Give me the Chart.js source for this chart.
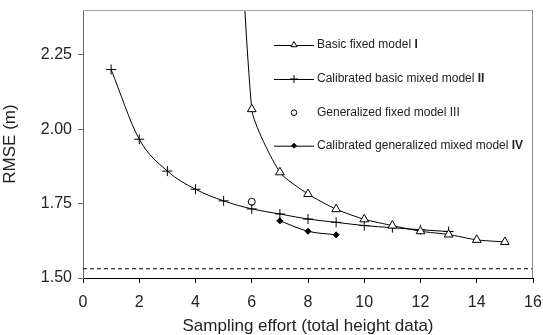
<!DOCTYPE html>
<html><head><meta charset="utf-8">
<script src="https://cdn.jsdelivr.net/npm/chart.js@4.4.1/dist/chart.umd.min.js"></script>
<style>html,body{margin:0;padding:0;background:#fff}#wrap{width:543px;height:335px}</style>
</head><body><div id="wrap"><canvas id="c" width="543" height="335"></canvas></div>
<script>
const xTicks = [0, 2, 4, 6, 8, 10, 12, 14, 16];
const yTicks = [1.5, 1.75, 2.0, 2.25];
const xI = [5, 6, 7, 8, 9, 10, 11, 12, 13, 14, 15];
const yI = [3.9, 2.067, 1.855, 1.782, 1.731, 1.697, 1.676, 1.657, 1.646, 1.628, 1.621];
const xII = [1, 2, 3, 4, 5, 6, 7, 8, 9, 10, 11, 12, 13];
const yII = [2.20, 1.966, 1.859, 1.798, 1.759, 1.732, 1.715, 1.698, 1.687, 1.676, 1.669, 1.662, 1.656];
const xIII = [6];
const yIII = [1.756];
const xIV = [7, 8, 9];
const yIV = [1.692, 1.657, 1.645];
const refX = [0, 16];
const refY = [1.531, 1.531];
const legendNames = ["Basic fixed model ", "Calibrated basic mixed model ", "Generalized fixed model ", "Calibrated generalized mixed model "];
const legendNums = ["I", "II", "III", "IV"];

const pts = (xs, ys) => xs.map((x, i) => ({x: x, y: ys[i]}));
const FONT = "'Liberation Sans', Arial, sans-serif";

const frame = {
  id: 'frame',
  afterDraw(chart) {
    const {ctx, chartArea: a} = chart;
    ctx.save();
    ctx.lineWidth = 1;
    ctx.strokeStyle = '#a8a8a8';
    ctx.beginPath(); ctx.moveTo(a.left, a.top + 0.5); ctx.lineTo(a.right, a.top + 0.5); ctx.stroke();
    ctx.strokeStyle = '#888';
    ctx.beginPath(); ctx.moveTo(a.right - 0.5, a.top); ctx.lineTo(a.right - 0.5, a.bottom); ctx.stroke();
    ctx.restore();
  }
};

const legendPlugin = {
  id: 'customLegend',
  afterDraw(chart) {
    const {ctx} = chart;
    const x0 = 274, x1 = 314, tx = 317, ys = [45, 79, 112.7, 145.7];
    const styles = ['triangle', 'cross', 'circle', 'rectRot'];
    const radii = [3.5, 4, 2.8, 2.5];
    const fills = ['#fff', '#000', '#fff', '#000'];
    ctx.save();
    ys.forEach((y, i) => {
      ctx.strokeStyle = '#000';
      ctx.lineWidth = 1;
      if (i !== 2) {
        ctx.beginPath(); ctx.moveTo(x0, y + 0.5); ctx.lineTo(x1, y + 0.5); ctx.stroke();
      }
      ctx.fillStyle = fills[i];
      Chart.helpers.drawPoint(ctx, {pointStyle: styles[i], radius: radii[i], borderWidth: 1, rotation: 0}, (x0 + x1) / 2, y);
      ctx.fillStyle = '#222';
      ctx.textBaseline = 'middle';
      ctx.font = "12px " + FONT;
      ctx.fillText(legendNames[i], tx, y);
      const w = ctx.measureText(legendNames[i]).width;
      ctx.font = (i === 2 ? "" : "bold ") + "12px " + FONT;
      ctx.fillText(legendNums[i], tx + w, y);
    });
    ctx.restore();
  }
};

new Chart(document.getElementById('c'), {
  type: 'line',
  data: {
    datasets: [
      {data: pts(xI, yI), borderColor: '#000', borderWidth: 1, tension: 0.2, pointStyle: 'triangle', pointRadius: 5, pointBorderColor: '#000', pointBackgroundColor: '#fff', pointBorderWidth: 1},
      {data: pts(xII, yII), borderColor: '#000', borderWidth: 1, cubicInterpolationMode: 'monotone', pointStyle: 'cross', pointRadius: 5, pointBorderColor: '#000', pointBorderWidth: 1},
      {data: pts(xIII, yIII), showLine: false, pointStyle: 'circle', pointRadius: 3.5, pointBorderColor: '#000', pointBackgroundColor: '#fff', pointBorderWidth: 1},
      {data: pts(xIV, yIV), borderColor: '#000', borderWidth: 1, cubicInterpolationMode: 'monotone', pointStyle: 'rectRot', pointRadius: 3, pointBorderColor: '#000', pointBackgroundColor: '#000', pointBorderWidth: 1},
      {data: pts(refX, refY), borderColor: '#000', borderWidth: 1, borderDash: [4, 3], pointRadius: 0, tension: 0}
    ]
  },
  options: {
    responsive: false,
    animation: false,
    events: [],
    layout: {padding: {left: 0, right: 10, top: 10, bottom: 0}},
    plugins: {legend: {display: false}, tooltip: {enabled: false}},
    scales: {
      x: {
        type: 'linear', min: 0, max: 16,
        afterBuildTicks(s) { s.ticks = xTicks.map(v => ({value: v})); },
        afterFit(s) { s.height = 57; s.paddingLeft = 0; s.paddingRight = 0; },
        grid: {drawOnChartArea: false, drawTicks: true, tickLength: 5, color: '#000'},
        border: {color: '#000', width: 1},
        ticks: {font: {family: FONT, size: 16}, color: '#222', padding: 10, maxRotation: 0},
        title: {display: true, text: 'Sampling effort (total height data)', font: {family: FONT, size: 17}, color: '#222', padding: {top: 0, bottom: -2}}
      },
      y: {
        type: 'linear', min: 1.5, max: 2.4,
        afterBuildTicks(s) { s.ticks = yTicks.map(v => ({value: v})); },
        afterFit(s) { s.width = 83; s.paddingTop = 0; s.paddingBottom = 0; },
        grid: {drawOnChartArea: false, drawTicks: true, tickLength: 5, color: '#666'},
        border: {color: '#666', width: 1},
        ticks: {font: {family: FONT, size: 16}, color: '#222', padding: 6, callback: v => v.toFixed(2)},
        title: {display: true, text: 'RMSE (m)', font: {family: FONT, size: 17}, color: '#222', padding: {top: 0, bottom: 0}}
      }
    }
  },
  plugins: [frame, legendPlugin]
});
</script></body></html>
